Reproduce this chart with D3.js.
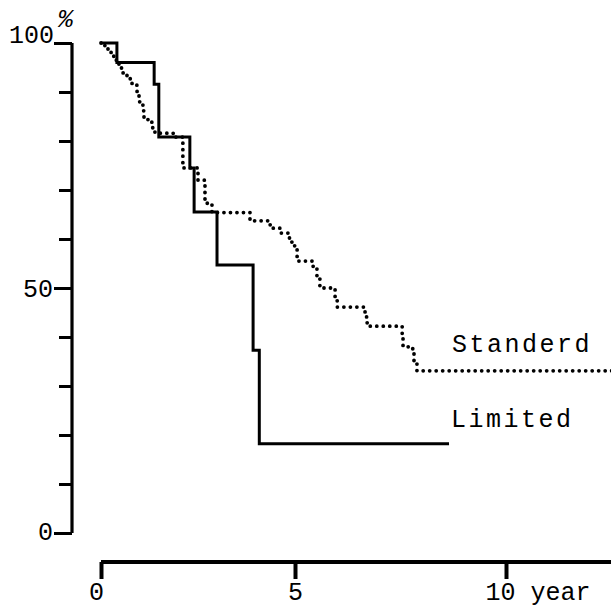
<!DOCTYPE html>
<html><head><meta charset="utf-8">
<script src="https://cdn.jsdelivr.net/npm/d3@7"></script>
<style>body{margin:0;background:#fff}svg{display:block}</style>
</head><body>
<svg id="c" width="611" height="609"></svg>
<script>
// ---- data ----
const yTicks = [0,10,20,30,40,50,60,70,80,90,100];
const yTickLabels = {0:"0", 50:"50", 100:"100"};
const yUnit = "%";
const xTicks = [0,5,10];
const xTickLabels = ["0","5","10 year"];
const seriesNames = ["Standerd","Limited"];

// Limited (solid) Kaplan-Meier steps: time (years), survival (%)
const limitedTime = [0, 0.41, 1.37, 1.49, 2.29, 2.40, 2.99, 3.92, 4.08, 8.65];
const limitedSurv = [100, 96, 91.6, 80.8, 74.5, 65.5, 54.7, 37.3, 18.2, 18.2];

// Standard (dotted) Kaplan-Meier steps
const standardTime = [0, 0.10, 0.18, 0.26, 0.34, 0.41, 0.49, 0.57, 0.67, 0.80, 0.93, 0.98, 1.08, 1.10, 1.21, 1.31, 1.39, 1.86, 2.11, 2.50, 2.68, 2.86, 3.84, 4.36, 4.61, 4.82, 4.92, 5.05, 5.43, 5.52, 5.59, 5.95, 6.00, 6.66, 6.71, 7.54, 7.56, 7.79, 7.82, 7.89, 12.6];
const standardSurv = [100, 99, 98.2, 97.3, 96.5, 95.7, 94.9, 93.9, 92.7, 91.4, 89.8, 88.0, 86.7, 84.9, 83.9, 82.7, 81.6, 80.8, 74.5, 72.0, 67.3, 65.4, 63.7, 62.2, 61.2, 60.2, 58.6, 55.5, 54.1, 52.4, 50.0, 48.0, 46.1, 44.1, 42.2, 40.4, 38.0, 36.7, 34.9, 33.1, 33.1];

// ---- drawing ----
const svg = d3.select("#c");
const FONT = "'Liberation Mono','DejaVu Sans Mono',monospace";
const x = d3.scaleLinear().domain([0,5,10,13]).range([101,295,506,633]);
const y = d3.scaleLinear().domain([0,100]).range([533,43]);

// Y axis
const yAxisX = 72;
const gy = svg.append("g").attr("transform", `translate(${yAxisX},0)`)
  .call(d3.axisLeft(y).tickValues(yTicks).tickSize(13).tickPadding(3)
        .tickFormat(d => yTickLabels[d] || ""));
gy.select(".domain").attr("d", `M0,${y(100)}V${y(0)}`).attr("stroke","#000").attr("stroke-width",3.2);
gy.selectAll(".tick line").attr("stroke","#000").attr("stroke-width",3)
  .attr("x2", d => (d % 50 === 0) ? -18 : -13);
gy.selectAll(".tick text").attr("font-family",FONT).attr("font-size",25).attr("fill","#000")
  .attr("x", d => d === 100 ? -18 : -19)
  .attr("dy", d => d === 100 ? "-0.02em" : (d === 0 ? "0.25em" : "0.32em"));
svg.append("text").attr("x",58).attr("y",27).attr("font-family",FONT).attr("font-size",25)
  .attr("font-style","italic").text(yUnit);

// X axis
const xAxisY = 562;
const gx = svg.append("g").attr("transform", `translate(0,${xAxisY})`)
  .call(d3.axisBottom(x).tickValues(xTicks).tickSize(17).tickPadding(4)
        .tickFormat((d,i) => xTickLabels[i]));
gx.select(".domain").attr("d", `M${x(0)},0H${x(13)}`).attr("stroke","#000").attr("stroke-width",4);
gx.selectAll(".tick line").attr("stroke","#000").attr("stroke-width",4);
gx.selectAll(".tick text").attr("font-family",FONT).attr("font-size",25).attr("fill","#000")
  .attr("dy","0.68em")
  .attr("text-anchor", (d,i) => i === 2 ? "start" : "middle")
  .attr("x", (d,i) => i === 0 ? -5 : (i === 2 ? -21 : 0));

// curves
const line = d3.line().x(d => x(d[0])).y(d => y(d[1])).curve(d3.curveStepAfter);
const limData = limitedTime.map((t,i) => [t, limitedSurv[i]]);
const stdData = standardTime.map((t,i) => [t, standardSurv[i]]);

svg.append("path").attr("d", line(stdData)).attr("fill","none").attr("stroke","#000")
  .attr("stroke-width",3.8).attr("stroke-linecap","round").attr("stroke-dasharray","0 6.5");
svg.append("path").attr("d", line(limData)).attr("fill","none").attr("stroke","#000")
  .attr("stroke-width",3).attr("stroke-linejoin","miter");

// labels
svg.append("text").attr("x",452).attr("y",352).attr("font-family",FONT).attr("font-size",25)
  .attr("letter-spacing",2.5).text(seriesNames[0]);
svg.append("text").attr("x",451).attr("y",427).attr("font-family",FONT).attr("font-size",25)
  .attr("letter-spacing",2.5).text(seriesNames[1]);
</script>
</body></html>
